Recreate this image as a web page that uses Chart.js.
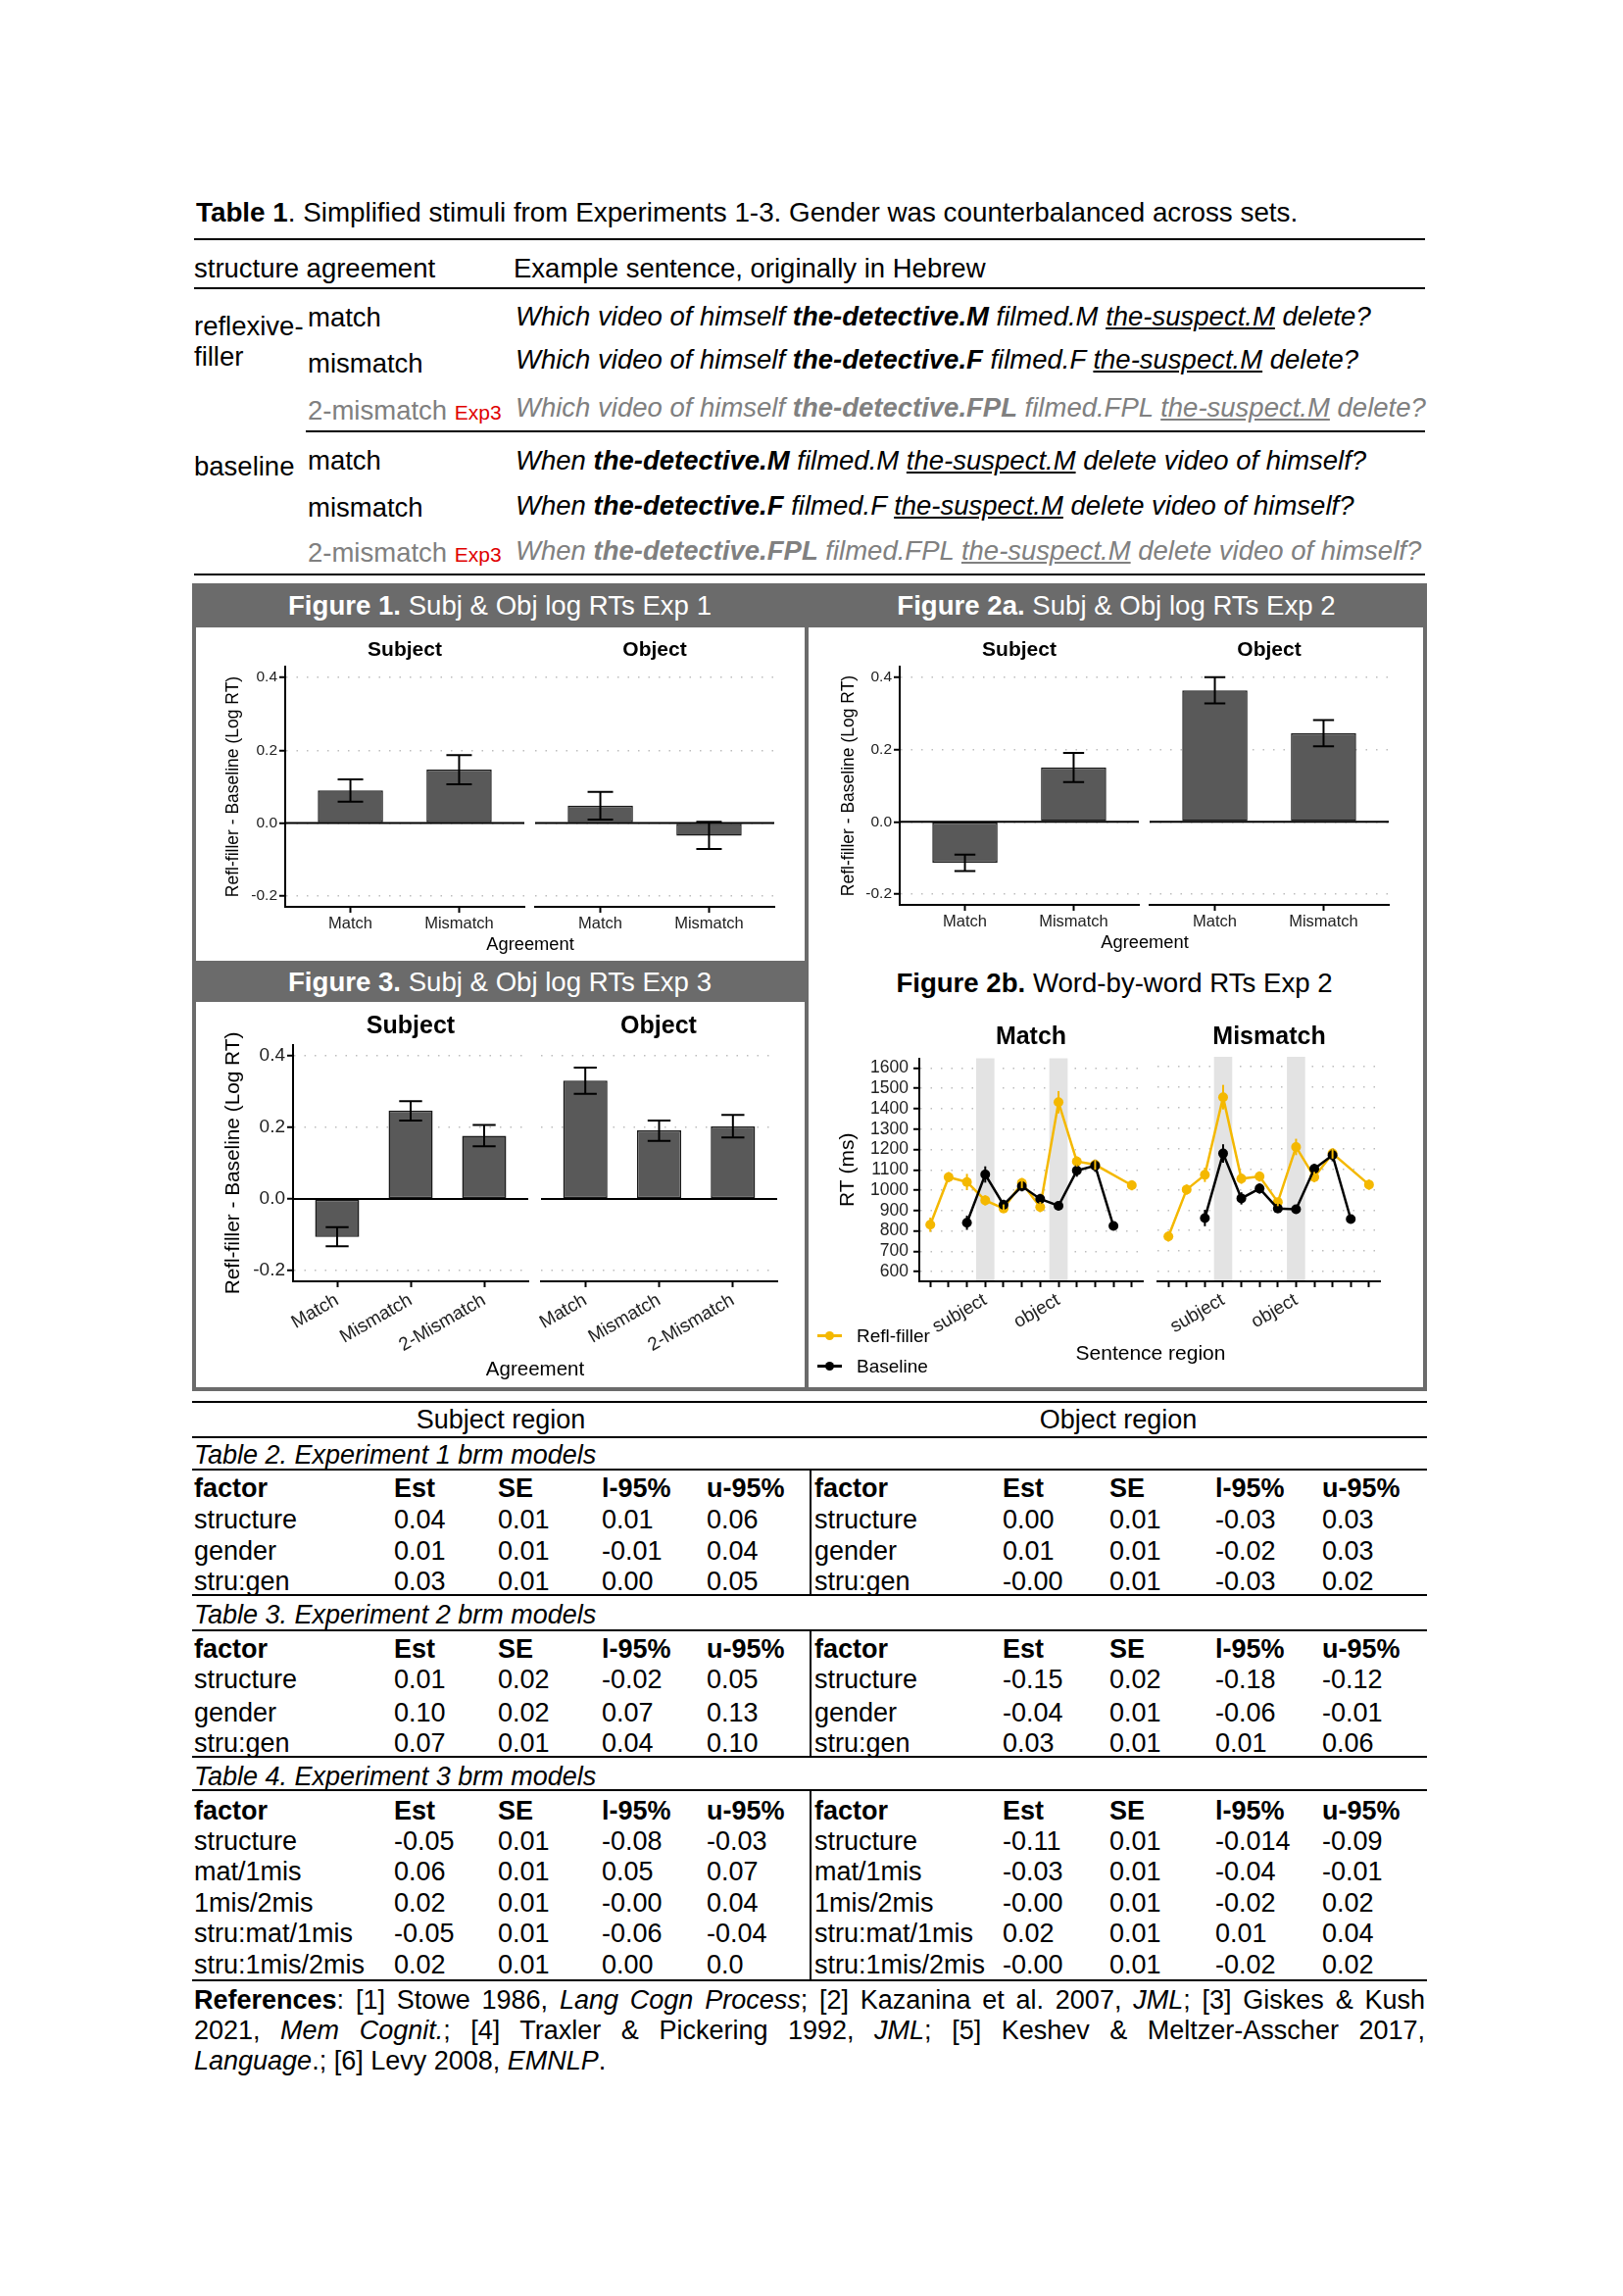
<!DOCTYPE html>
<html>
<head>
<meta charset="utf-8">
<script src="https://cdn.jsdelivr.net/npm/chart.js@4.4.1/dist/chart.umd.min.js"></script>
<style>
body { margin: 0; background: #fff; }
#page { position: relative; width: 1656px; height: 2342px; overflow: hidden; font-family: 'Liberation Sans', Arial, sans-serif; color: #000; }
.t { position: absolute; white-space: nowrap; }
.box { position: absolute; }
canvas { position: absolute; }
</style>
</head>
<body>
<div id="page"></div>
<script>
const FONT = "'Liberation Sans', Arial, sans-serif";
const YEL = '#F4B800';

// --- bar figures (log RT difference) ---
const barYTicks = [-0.2, 0, 0.2, 0.4];
const twoCats = ['Match', 'Mismatch'];
const threeCats = ['Match', 'Mismatch', '2-Mismatch'];

// Figure 1, Exp 1
const f1SubjVals = [0.090, 0.147];
const f1SubjLo = [0.059, 0.107];
const f1SubjHi = [0.120, 0.187];
const f1ObjVals = [0.048, -0.035];
const f1ObjLo = [0.010, -0.071];
const f1ObjHi = [0.086, 0.004];

// Figure 2a, Exp 2
const f2SubjVals = [-0.113, 0.151];
const f2SubjLo = [-0.136, 0.110];
const f2SubjHi = [-0.091, 0.191];
const f2ObjVals = [0.364, 0.246];
const f2ObjLo = [0.328, 0.209];
const f2ObjHi = [0.401, 0.282];

// Figure 3, Exp 3
const f3SubjVals = [-0.106, 0.247, 0.177];
const f3SubjLo = [-0.132, 0.219, 0.147];
const f3SubjHi = [-0.079, 0.273, 0.207];
const f3ObjVals = [0.331, 0.192, 0.203];
const f3ObjLo = [0.294, 0.162, 0.172];
const f3ObjHi = [0.367, 0.219, 0.235];

// --- Figure 2b, word-by-word RTs (12 regions) ---
const regions = ['', '', '', 'subject', '', '', '', 'object', '', '', '', ''];
const highlighted = [4, 8];
const rtTicks = [600, 700, 800, 900, 1000, 1100, 1200, 1300, 1400, 1500, 1600];
const matchRefl    = [830, 1064, 1040, 950, 910, 1035, 917, 1432, 1141, 1125, null, 1024];
const matchReflErr = [35, 25, 40, 25, 20, 25, 25, 55, 25, 25, null, 25];
const matchBase    = [null, null, 840, 1077, 928, 1019, 957, 923, 1096, 1120, 824, null];
const matchBaseErr = [null, null, 35, 40, 25, 25, 25, 20, 30, 30, 20, null];
const mismRefl     = [771, 1000, 1072, 1451, 1053, 1064, 939, 1208, 1061, 1176, null, 1024];
const mismReflErr  = [25, 25, 35, 60, 25, 25, 20, 40, 25, 25, null, 25];
const mismBase     = [null, null, 861, 1176, 957, 1005, 907, 904, 1101, 1168, 856, null];
const mismBaseErr  = [null, null, 40, 45, 30, 25, 20, 20, 25, 30, 20, null];

// --- Tables 2-4 ---
const tblHead = ['factor', 'Est', 'SE', 'l-95%', 'u-95%'];
const t2Subj = [['structure', '0.04', '0.01', '0.01', '0.06'], ['gender', '0.01', '0.01', '-0.01', '0.04'], ['stru:gen', '0.03', '0.01', '0.00', '0.05']];
const t2Obj = [['structure', '0.00', '0.01', '-0.03', '0.03'], ['gender', '0.01', '0.01', '-0.02', '0.03'], ['stru:gen', '-0.00', '0.01', '-0.03', '0.02']];
const t3Subj = [['structure', '0.01', '0.02', '-0.02', '0.05'], ['gender', '0.10', '0.02', '0.07', '0.13'], ['stru:gen', '0.07', '0.01', '0.04', '0.10']];
const t3Obj = [['structure', '-0.15', '0.02', '-0.18', '-0.12'], ['gender', '-0.04', '0.01', '-0.06', '-0.01'], ['stru:gen', '0.03', '0.01', '0.01', '0.06']];
const t4Subj = [['structure', '-0.05', '0.01', '-0.08', '-0.03'], ['mat/1mis', '0.06', '0.01', '0.05', '0.07'], ['1mis/2mis', '0.02', '0.01', '-0.00', '0.04'], ['stru:mat/1mis', '-0.05', '0.01', '-0.06', '-0.04'], ['stru:1mis/2mis', '0.02', '0.01', '0.00', '0.0']];
const t4Obj = [['structure', '-0.11', '0.01', '-0.014', '-0.09'], ['mat/1mis', '-0.03', '0.01', '-0.04', '-0.01'], ['1mis/2mis', '-0.00', '0.01', '-0.02', '0.02'], ['stru:mat/1mis', '0.02', '0.01', '0.01', '0.04'], ['stru:1mis/2mis', '-0.00', '0.01', '-0.02', '0.02']];

const page = document.getElementById('page');

// テキスト配置（cy は行の中心）
function txt(html, x, cy, size, o = {}) {
    const d = document.createElement('div');
    d.className = 't';
    d.innerHTML = html;
    d.style.fontSize = size + 'px';
    d.style.lineHeight = Math.round(size * 1.2) + 'px';
    d.style.top = (cy - size * 0.6) + 'px';
    if (o.center) {
        d.style.left = (x - 400) + 'px';
        d.style.width = '800px';
        d.style.textAlign = 'center';
    } else {
        d.style.left = x + 'px';
    }
    if (o.bold) d.style.fontWeight = 'bold';
    if (o.italic) d.style.fontStyle = 'italic';
    if (o.color) d.style.color = o.color;
    page.appendChild(d);
    return d;
}

function rect(x, y, w, h, color) {
    const d = document.createElement('div');
    d.className = 'box';
    Object.assign(d.style, { left: x + 'px', top: y + 'px', width: w + 'px', height: h + 'px', background: color });
    page.appendChild(d);
    return d;
}

function makeCanvas(x, y, w, h) {
    const c = document.createElement('canvas');
    c.width = w;
    c.height = h;
    c.style.left = x + 'px';
    c.style.top = y + 'px';
    page.appendChild(c);
    return c;
}

// ---------- Table 1 ----------
const T1 = 27.5;
txt('<b>Table 1</b>. Simplified stimuli from Experiments 1-3. Gender was counterbalanced across sets.', 200, 217, 27.8);
rect(198, 243, 1256, 2, '#000');
txt('structure agreement', 198, 273, T1);
txt('Example sentence, originally in Hebrew', 524, 273, T1);
rect(198, 293, 1256, 2, '#000');

const GREY = '#808080';
const exp3 = ' <span style="color:#e00000;font-size:21px">Exp3</span>';
txt('reflexive-', 198, 332, T1);
txt('filler', 198, 363, T1);
txt('match', 314, 323, T1);
txt('Which video of himself <b>the-detective.M</b> filmed.M <u>the-suspect.M</u> delete?', 526, 322, T1, { italic: true });
txt('mismatch', 314, 370, T1);
txt('Which video of himself <b>the-detective.F</b> filmed.F <u>the-suspect.M</u> delete?', 526, 366, T1, { italic: true });
txt('2-mismatch' + exp3, 314, 418, T1, { color: GREY });
txt('Which video of himself <b>the-detective.FPL</b> filmed.FPL <u>the-suspect.M</u> delete?', 526, 415, T1, { italic: true, color: GREY });
rect(312, 439, 1142, 2, '#000');
txt('baseline', 198, 475, T1);
txt('match', 314, 469, T1);
txt('When <b>the-detective.M</b> filmed.M <u>the-suspect.M</u> delete video of himself?', 526, 469, T1, { italic: true });
txt('mismatch', 314, 517, T1);
txt('When <b>the-detective.F</b> filmed.F <u>the-suspect.M</u> delete video of himself?', 526, 515, T1, { italic: true });
txt('2-mismatch' + exp3, 314, 563, T1, { color: GREY });
txt('When <b>the-detective.FPL</b> filmed.FPL <u>the-suspect.M</u> delete video of himself?', 526, 561, T1, { italic: true, color: GREY });
rect(198, 585, 1256, 2, '#000');

// ---------- Figure frame ----------
const FRAME = '#6b6b6b';
rect(196, 595, 1260, 824, FRAME);
rect(200, 640, 621, 340, '#fff');
rect(825, 640, 627, 775, '#fff');
rect(200, 1022, 621, 393, '#fff');
txt('<b>Figure 1.</b> Subj &amp; Obj log RTs Exp 1', 510, 618, 27.6, { center: true, color: '#fff' });
txt('<b>Figure 2a.</b> Subj &amp; Obj log RTs Exp 2', 1139, 618, 27.6, { center: true, color: '#fff' });
txt('<b>Figure 3.</b> Subj &amp; Obj log RTs Exp 3', 510, 1002, 27.6, { center: true, color: '#fff' });
txt('<b>Figure 2b.</b> Word-by-word RTs Exp 2', 1137, 1003, 27.6, { center: true });

// ---------- plugins ----------
const zeroLine = {
    id: 'zeroLine',
    beforeDatasetsDraw(chart, args, opts) {
        if (!opts.on) return;
        const { ctx, chartArea } = chart;
        const y = chart.scales.y.getPixelForValue(0);
        ctx.save();
        ctx.strokeStyle = '#000';
        ctx.lineWidth = 2;
        ctx.beginPath();
        ctx.moveTo(chartArea.left, y);
        ctx.lineTo(chartArea.right, y);
        ctx.stroke();
        ctx.restore();
    }
};

const bands = {
    id: 'bands',
    beforeDatasetsDraw(chart, args, opts) {
        if (!opts.at) return;
        const { ctx, chartArea } = chart;
        const xs = chart.scales.x;
        ctx.save();
        ctx.fillStyle = '#e3e3e3';
        opts.at.forEach(v => {
            const x0 = xs.getPixelForValue(v - 0.5);
            const x1 = xs.getPixelForValue(v + 0.5);
            ctx.fillRect(x0, chartArea.top, x1 - x0, chartArea.bottom - chartArea.top - 1);
        });
        ctx.restore();
    }
};

// エラーバー（データセットの errLo / errHi を使う）
const errBars = {
    id: 'errBars',
    afterDatasetsDraw(chart) {
        const { ctx } = chart;
        const ys = chart.scales.y;
        chart.data.datasets.forEach((ds, di) => {
            if (!ds.errLo) return;
            const meta = chart.getDatasetMeta(di);
            ctx.save();
            ctx.strokeStyle = ds.errColor || '#000';
            ctx.lineWidth = ds.errWidth || 2;
            meta.data.forEach((el, i) => {
                const x = el.x;
                const yl = ys.getPixelForValue(ds.errLo[i]);
                const yh = ys.getPixelForValue(ds.errHi[i]);
                ctx.beginPath();
                ctx.moveTo(x, yl);
                ctx.lineTo(x, yh);
                if (ds.errCap) {
                    ctx.moveTo(x - ds.errCap, yl);
                    ctx.lineTo(x + ds.errCap, yl);
                    ctx.moveTo(x - ds.errCap, yh);
                    ctx.lineTo(x + ds.errCap, yh);
                }
                ctx.stroke();
            });
            ctx.restore();
        });
    }
};

// ---------- bar facets ----------
function barFacet(x, y, w, h, cats, vals, lo, hi, o) {
    const cv = makeCanvas(x, y, w, h);
    return new Chart(cv, {
        type: 'bar',
        data: {
            datasets: [{
                data: vals.map((v, i) => ({ x: i + 1, y: v })),
                backgroundColor: '#595959',
                borderColor: '#1a1a1a',
                borderWidth: 1.5,
                borderSkipped: false,
                barPercentage: 0.6,
                categoryPercentage: 1,
                errLo: lo,
                errHi: hi,
                errCap: o.cap
            }]
        },
        options: {
            responsive: false,
            animation: false,
            events: [],
            layout: { padding: o.pad },
            plugins: { legend: { display: false }, tooltip: { enabled: false }, zeroLine: { on: true } },
            scales: {
                x: {
                    type: 'linear',
                    offset: false,
                    min: 0.4,
                    max: cats.length + 0.6,
                    afterBuildTicks: s => { s.ticks = cats.map((c, i) => ({ value: i + 1 })); },
                    afterFit: s => { s.height = o.xh; },
                    ticks: {
                        callback: v => cats[v - 1],
                        autoSkip: false,
                        maxRotation: o.rot,
                        minRotation: o.rot,
                        padding: o.xpad,
                        color: '#222',
                        font: { size: o.xfs, family: FONT }
                    },
                    grid: { offset: false, drawOnChartArea: false, tickLength: 6, tickColor: '#000', tickWidth: 2 },
                    border: { color: '#000', width: 2 }
                },
                y: {
                    min: -0.23,
                    max: 0.43,
                    afterBuildTicks: s => { s.ticks = barYTicks.map(v => ({ value: v })); },
                    afterFit: s => { s.width = o.yw; },
                    ticks: {
                        display: o.axis,
                        autoSkip: false,
                        callback: v => Number(v).toFixed(1),
                        padding: 2,
                        color: '#222',
                        font: { size: o.yfs, family: FONT }
                    },
                    grid: { color: '#bdbdbd', lineWidth: 1.5, drawTicks: o.axis, tickLength: 6, tickColor: '#000', tickWidth: 2 },
                    border: { display: o.axis, color: '#000', width: 2, dash: [1.5, 9] },
                    title: { display: o.axis, text: 'Refl-filler - Baseline (Log RT)', color: '#000', padding: 0, font: { size: o.tfs, family: FONT } }
                }
            }
        },
        plugins: [zeroLine, errBars]
    });
}

// Figure 1
const f1 = { pad: { top: 14, right: 20, left: 0, bottom: 0 }, xh: 30, xpad: 2, rot: 0, xfs: 16.5, yfs: 15.5, tfs: 17.5, cap: 13 };
barFacet(228, 666, 327, 289, twoCats, f1SubjVals, f1SubjLo, f1SubjHi, { ...f1, axis: true, yw: 63 });
barFacet(496, 666, 314, 289, twoCats, f1ObjVals, f1ObjLo, f1ObjHi, { ...f1, axis: false, yw: 0, pad: { top: 14, right: 20, left: 50, bottom: 0 } });
txt('Subject', 413, 662, 21, { center: true, bold: true });
txt('Object', 668, 662, 21, { center: true, bold: true });
txt('Agreement', 541, 963, 18.3, { center: true });

// Figure 2a
const f2 = { ...f1, cap: 10.7 };
barFacet(856, 666, 326, 287, twoCats, f2SubjVals, f2SubjLo, f2SubjHi, { ...f2, axis: true, yw: 62 });
barFacet(1123, 666, 314, 287, twoCats, f2ObjVals, f2ObjLo, f2ObjHi, { ...f2, axis: false, yw: 0, pad: { top: 14, right: 20, left: 50, bottom: 0 } });
txt('Subject', 1040, 662, 21, { center: true, bold: true });
txt('Object', 1295, 662, 21, { center: true, bold: true });
txt('Agreement', 1168, 961, 18.3, { center: true });

// Figure 3
const f3 = { pad: { top: 14, right: 20, left: 0, bottom: 0 }, xh: 80, xpad: 2, rot: 30, xfs: 19, yfs: 19, tfs: 20.8, cap: 11.7 };
barFacet(226, 1052, 333, 335, threeCats, f3SubjVals, f3SubjLo, f3SubjHi, { ...f3, axis: true, yw: 73 });
barFacet(502, 1052, 311, 335, threeCats, f3ObjVals, f3ObjLo, f3ObjHi, { ...f3, axis: false, yw: 0, pad: { top: 14, right: 20, left: 50, bottom: 0 } });
txt('Subject', 419, 1045, 25, { center: true, bold: true });
txt('Object', 672, 1045, 25, { center: true, bold: true });
txt('Agreement', 546, 1395, 20.5, { center: true });

// ---------- Figure 2b line facets ----------
function toPoints(vals) {
    return vals.map((v, i) => (v === null ? null : { x: i + 1, y: v })).filter(p => p);
}
function errLo(vals, errs) {
    return vals.map((v, i) => (v === null ? null : v - errs[i])).filter(v => v !== null);
}
function errHi(vals, errs) {
    return vals.map((v, i) => (v === null ? null : v + errs[i])).filter(v => v !== null);
}

function lineFacet(x, y, w, h, refl, reflErr, base, baseErr, o) {
    const cv = makeCanvas(x, y, w, h);
    const series = (vals, errs, color) => ({
        data: toPoints(vals),
        borderColor: color,
        backgroundColor: color,
        borderWidth: 2.5,
        pointRadius: 5,
        pointBorderWidth: 0,
        tension: 0,
        errLo: errLo(vals, errs),
        errHi: errHi(vals, errs),
        errColor: color,
        errWidth: 2
    });
    return new Chart(cv, {
        type: 'line',
        data: {
            datasets: [series(base, baseErr, '#000'), series(refl, reflErr, YEL)]
        },
        options: {
            responsive: false,
            animation: false,
            events: [],
            layout: { padding: o.pad },
            plugins: { legend: { display: false }, tooltip: { enabled: false }, bands: { at: highlighted } },
            scales: {
                x: {
                    type: 'linear',
                    offset: false,
                    min: 0.4,
                    max: regions.length + 0.6,
                    afterBuildTicks: s => { s.ticks = regions.map((r, i) => ({ value: i + 1 })); },
                    afterFit: s => { s.height = 70; },
                    ticks: {
                        callback: v => regions[v - 1],
                        autoSkip: false,
                        maxRotation: 30,
                        minRotation: 30,
                        padding: 2,
                        color: '#222',
                        font: { size: 19, family: FONT }
                    },
                    grid: { offset: false, drawOnChartArea: false, tickLength: 6, tickColor: '#000', tickWidth: 2 },
                    border: { color: '#000', width: 2 }
                },
                y: {
                    min: 552,
                    max: 1648,
                    afterBuildTicks: s => { s.ticks = rtTicks.map(v => ({ value: v })); },
                    afterFit: s => { s.width = o.yw; },
                    ticks: { display: o.axis, autoSkip: false, callback: v => String(v), padding: 5, color: '#222', font: { size: 17.5, family: FONT } },
                    grid: { color: '#bdbdbd', lineWidth: 1.5, drawTicks: o.axis, tickLength: 6, tickColor: '#000', tickWidth: 2 },
                    border: { display: o.axis, color: '#000', width: 2, dash: [1.5, 9] },
                    title: { display: o.axis, text: 'RT (ms)', color: '#000', padding: 0, font: { size: 21, family: FONT } }
                }
            }
        },
        plugins: [bands, errBars]
    });
}

lineFacet(853, 1064, 333, 313, matchRefl, matchReflErr, matchBase, matchBaseErr, { axis: true, yw: 85, pad: { top: 14, right: 20, left: 0, bottom: 0 } });
lineFacet(1131, 1064, 297, 313, mismRefl, mismReflErr, mismBase, mismBaseErr, { axis: false, yw: 0, pad: { top: 14, right: 20, left: 50, bottom: 0 } });
txt('Match', 1052, 1056, 25, { center: true, bold: true });
txt('Mismatch', 1295, 1056, 25, { center: true, bold: true });
txt('Sentence region', 1174, 1380, 21, { center: true });

// legend
function legendKey(cy, color, label) {
    rect(834, cy - 1, 25, 2.5, color);
    const dot = rect(842, cy - 4, 9, 9, color);
    dot.style.borderRadius = '50%';
    txt(label, 874, cy, 19);
}
legendKey(1362, YEL, 'Refl-filler');
legendKey(1393, '#000', 'Baseline');

// ---------- Tables 2-4 ----------
const colsSubj = [198, 402, 508, 614, 721];
const colsObj = [831, 1023, 1132, 1240, 1349];

function tableBlock(rowsSubj, rowsObj, headY, rowYs) {
    tblHead.forEach((h, c) => {
        txt(h, colsSubj[c], headY, 27, { bold: true });
        txt(h, colsObj[c], headY, 27, { bold: true });
    });
    rowsSubj.forEach((r, i) => r.forEach((v, c) => txt(v, colsSubj[c], rowYs[i], 27)));
    rowsObj.forEach((r, i) => r.forEach((v, c) => txt(v, colsObj[c], rowYs[i], 27)));
}

[1429, 1465, 1498, 1626, 1662, 1791, 1825, 2019].forEach(y => rect(196, y, 1260, 2, '#000'));
rect(826, 1498, 2, 130, '#000');
rect(826, 1662, 2, 131, '#000');
rect(826, 1825, 2, 196, '#000');

txt('Subject region', 511, 1448, 27, { center: true });
txt('Object region', 1141, 1448, 27, { center: true });
txt('Table 2. Experiment 1 brm models', 198, 1484, 27, { italic: true });
txt('Table 3. Experiment 2 brm models', 198, 1647, 27, { italic: true });
txt('Table 4. Experiment 3 brm models', 198, 1812, 27, { italic: true });
tableBlock(t2Subj, t2Obj, 1518, [1550, 1582, 1613]);
tableBlock(t3Subj, t3Obj, 1682, [1713, 1747, 1778]);
tableBlock(t4Subj, t4Obj, 1847, [1878, 1909, 1941, 1972, 2004]);

// ---------- References ----------
const refLines = [
    '<b>References</b>: [1] Stowe 1986, <i>Lang Cogn Process</i>; [2] Kazanina et al. 2007, <i>JML</i>; [3] Giskes &amp; Kush',
    '2021, <i>Mem Cognit.</i>; [4] Traxler &amp; Pickering 1992, <i>JML</i>; [5] Keshev &amp; Meltzer-Asscher 2017,',
    '<i>Language</i>.; [6] Levy 2008, <i>EMNLP</i>.'
];
refLines.forEach((l, i) => {
    const d = txt(l, 198, 2040 + i * 31, 27);
    if (i < 2) {
        d.style.width = '1256px';
        d.style.whiteSpace = 'normal';
        d.style.textAlign = 'justify';
        d.style.textAlignLast = 'justify';
    }
});
</script>
</body>
</html>
